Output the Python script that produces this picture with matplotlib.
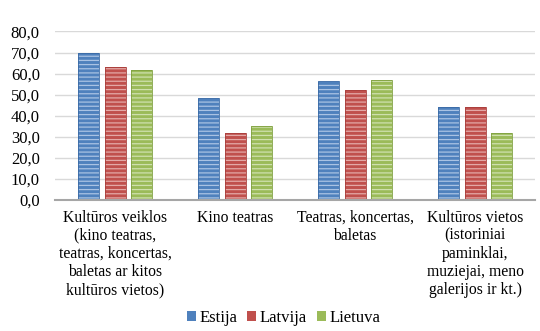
import matplotlib
matplotlib.use("Agg")
import matplotlib.pyplot as plt
import numpy as np
from matplotlib.ticker import FuncFormatter, MultipleLocator

categories = [
    "Kultūros veiklos\n(kino teatras,\nteatras, koncertas,\nbaletas ar kitos\nkultūros vietos)",
    "Kino teatras",
    "Teatras, koncertas,\nbaletas",
    "Kultūros vietos\n(istoriniai\npaminklai,\nmuziejai, meno\ngalerijos ir kt.)",
]
series_names = ["Estija", "Latvija", "Lietuva"]
estija = [69.8, 48.3, 56.4, 44.3]
latvija = [63.2, 31.6, 52.4, 44.1]
lietuva = [61.8, 35.0, 56.9, 31.6]
values = [estija, latvija, lietuva]

colors = ["#4F81BD", "#C0504D", "#9BBB59"]
hatch_colors = ["#A9C2E3", "#E3A9A7", "#CFE0AE"]
edge_colors = ["#3A6AA5", "#A83E3B", "#7FA03F"]

plt.rcParams["font.family"] = ["Liberation Serif", "DejaVu Serif"]
plt.rcParams["hatch.linewidth"] = 0.9

fig = plt.figure(figsize=(5.4, 3.31), dpi=100)
ax = fig.add_axes([0.102, 0.396, 0.889, 0.509])

x = np.arange(len(categories))
width = 0.175
step = 0.22
for i, (name, vals) in enumerate(zip(series_names, values)):
    pos = x + (i - 1) * step
    ax.bar(pos, vals, width, color=colors[i], edgecolor=hatch_colors[i],
           hatch="----", linewidth=0, zorder=3)
    ax.bar(pos, vals, width, fill=False, edgecolor=edge_colors[i],
           linewidth=0.6, zorder=4)
    ax.bar([0], [0], color=colors[i], label=name)

ax.set_xlim(-0.5, len(categories) - 0.5)
ax.set_ylim(0, 80)
ax.yaxis.set_major_locator(MultipleLocator(10))
ax.yaxis.set_major_formatter(FuncFormatter(lambda v, p: f"{v:.1f}".replace(".", ",")))
ax.grid(axis="y", color="#D9D9D9", linewidth=1.0, zorder=0)
ax.set_axisbelow(True)
for s in ["top", "right", "left"]:
    ax.spines[s].set_visible(False)
ax.spines["bottom"].set_color("#A6A6A6")
ax.spines["bottom"].set_linewidth(1.5)
ax.spines["bottom"].set_zorder(5)
ax.tick_params(axis="y", length=0, pad=11, labelsize=12)
ax.tick_params(axis="x", length=0, pad=7, labelsize=11.3)
ax.set_xticks(x)
ax.set_xticklabels(categories, linespacing=1.18)

handles, labels = ax.get_legend_handles_labels()
fig.legend(handles, labels, loc="center", bbox_to_anchor=(0.525, 0.04), ncol=3,
           frameon=False, fontsize=12, handlelength=0.55, handleheight=0.55,
           handletextpad=0.2, columnspacing=0.6)

fig.savefig("out.png", dpi=100)
